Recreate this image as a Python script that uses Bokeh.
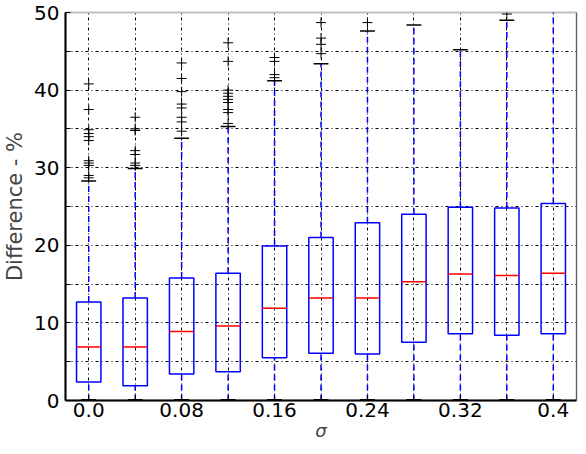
import numpy as np

from bokeh.plotting import figure
from bokeh.models import Range1d, FixedTicker, Span
from bokeh.embed import file_html
from bokeh.resources import INLINE

# --- data ---
sigma = [0.0, 0.04, 0.08, 0.12, 0.16, 0.20, 0.24, 0.28, 0.32, 0.36, 0.40]
x_labeled = [0.0, 0.08, 0.16, 0.24, 0.32, 0.40]
x_tick_labels = ["0.0", "0.08", "0.16", "0.24", "0.32", "0.4"]
x_minor = [0.04, 0.12, 0.20, 0.28, 0.36]

q1 = [2.4, 1.9, 3.4, 3.7, 5.5, 6.1, 6.0, 7.5, 8.6, 8.4, 8.6]
median = [6.9, 6.9, 8.9, 9.6, 11.9, 13.2, 13.2, 15.3, 16.3, 16.1, 16.4]
q3 = [12.7, 13.2, 15.8, 16.4, 19.9, 21.0, 22.9, 24.0, 24.9, 24.8, 25.4]
whisker_low = [0.0, 0.0, 0.0, 0.0, 0.0, 0.0, 0.0, 0.0, 0.0, 0.0, 0.0]
whisker_high = [28.3, 29.9, 33.8, 35.3, 41.2, 43.4, 47.6, 48.4, 45.2, 49.0, 52.0]

fliers = [
    [28.7, 29.0, 30.3, 30.6, 30.9, 33.5, 34.0, 34.4, 34.9, 37.5, 40.8],
    [30.3, 30.6, 31.7, 32.2, 34.8, 35.0, 36.5],
    [34.7, 35.9, 36.5, 37.7, 38.2, 39.8, 41.5, 43.5],
    [35.7, 37.1, 37.5, 38.4, 38.8, 39.2, 39.6, 40.0, 43.7, 46.1],
    [41.6, 42.0, 43.7, 44.2],
    [44.7, 45.9, 46.7, 48.7],
    [48.7],
    [],
    [],
    [49.8],
    [],
]

y_major = [0, 10, 20, 30, 40, 50]
y_minor = [5, 15, 25, 35, 45]
y_all = [0, 5, 10, 15, 20, 25, 30, 35, 40, 45, 50]

FONT = "DejaVu Sans"
box_w = 0.021
cap_w = 0.0128

p = figure(width=578, height=446, output_backend="svg", toolbar_location=None,
           min_border_left=58, min_border_right=2, min_border_top=12, min_border_bottom=46)
p.x_range = Range1d(-0.02, 0.42)
p.y_range = Range1d(0, 50)
p.background_fill_color = "white"
p.border_fill_color = "white"
p.outline_line_color = "#c0c0c0"
p.outline_line_width = 2

# grid
for g in (p.xgrid, p.ygrid):
    g.grid_line_color = "black"
    g.grid_line_dash = "3 3 1 3"
    g.grid_line_width = 1
p.xgrid.ticker = FixedTicker(ticks=sigma)
p.ygrid.ticker = FixedTicker(ticks=y_all)

# axes
p.xaxis.ticker = FixedTicker(ticks=x_labeled, minor_ticks=x_minor)
p.xaxis.major_label_overrides = dict(zip(x_labeled, x_tick_labels))
p.yaxis.ticker = FixedTicker(ticks=y_major, minor_ticks=y_minor)
for ax in (p.xaxis, p.yaxis):
    ax.axis_line_width = 2
    ax.axis_line_color = "black"
    ax.major_tick_in = 5
    ax.major_tick_out = 0
    ax.minor_tick_in = 5
    ax.minor_tick_out = 0
    ax.minor_tick_line_color = "black"
    ax.major_label_text_font = FONT
    ax.major_label_text_font_size = "20px"
    ax.major_label_text_color = "black"
    ax.axis_label_text_font = FONT
    ax.axis_label_text_font_size = "21px"
    ax.axis_label_text_font_style = "normal"
p.xaxis.major_label_standoff = 2
p.yaxis.major_label_standoff = 6
p.xaxis.axis_label = "\u03c3"
p.xaxis.axis_label_text_font_style = "italic"
p.xaxis.axis_label_text_font_size = "18px"
p.xaxis.axis_label_standoff = 0
p.yaxis.axis_label = "Difference - %"
p.yaxis.axis_label_standoff = 4

# black right edge of the frame
p.add_layout(Span(location=p.x_range.end, dimension="height",
                  line_color="black", line_width=1))

sig = np.array(sigma)

# whiskers
p.segment(x0=sig, y0=q3, x1=sig, y1=whisker_high, line_color="blue",
          line_width=1.5, line_dash="6 4")
p.segment(x0=sig, y0=whisker_low, x1=sig, y1=q1, line_color="blue",
          line_width=1.5, line_dash="6 4")

# caps
p.segment(x0=sig - cap_w / 2, y0=whisker_high, x1=sig + cap_w / 2, y1=whisker_high,
          line_color="black", line_width=1.5)
p.segment(x0=sig - cap_w / 2, y0=whisker_low, x1=sig + cap_w / 2, y1=whisker_low,
          line_color="black", line_width=3)

# boxes
p.quad(left=sig - box_w / 2, right=sig + box_w / 2, bottom=q1, top=q3,
       fill_color=None, line_color="blue", line_width=1.5)

# medians
p.segment(x0=sig - box_w / 2, y0=median, x1=sig + box_w / 2, y1=median,
          line_color="red", line_width=1.5)

# outliers
fx = [s for s, f in zip(sigma, fliers) for _ in f]
fy = [v for f in fliers for v in f]
p.scatter(x=fx, y=fy, marker="cross", size=10, line_color="black", line_width=1)

open("out.html", "w").write(file_html(p, INLINE))
